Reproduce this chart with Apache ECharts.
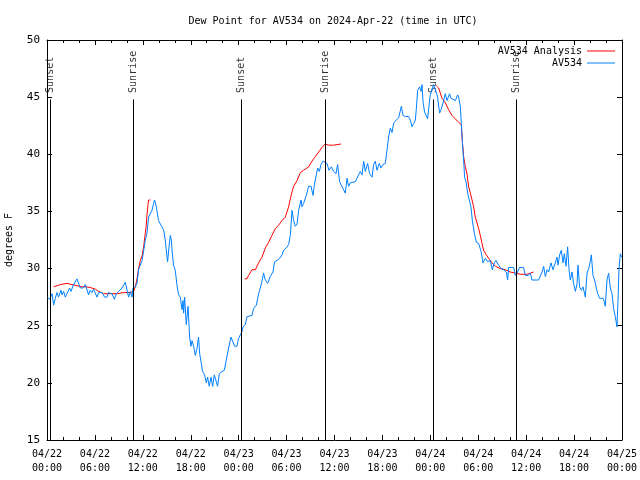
<!DOCTYPE html>
<html>
<head>
<meta charset="utf-8">
<script src="https://cdn.jsdelivr.net/npm/echarts@6/dist/echarts.min.js"></script>
<style>html,body{margin:0;padding:0;background:#fff}#c{width:640px;height:480px}</style>
</head>
<body>
<div id="c"></div>
<script>
// ---- data (hours since 2024-04-22 00:00 UTC, dew point in F) ----
const xTickLabels = ['04/22\n00:00','04/22\n06:00','04/22\n12:00','04/22\n18:00','04/23\n00:00','04/23\n06:00','04/23\n12:00','04/23\n18:00','04/24\n00:00','04/24\n06:00','04/24\n12:00','04/24\n18:00','04/25\n00:00'];
const sunNames = ['Sunset','Sunrise','Sunset','Sunrise','Sunset','Sunrise'];
const sunHours = [0.45, 10.85, 24.37, 34.8, 48.4, 58.8];

const blueT = [
0.08,0.33,0.63,0.83,1.04,1.25,1.45,1.75,1.88,2.08,
2.29,2.50,2.83,3.01,3.26,3.42,3.76,3.96,4.17,4.51,
4.80,5.01,5.21,5.42,5.63,5.84,6.05,6.26,6.46,6.89,
7.21,7.51,7.71,8.14,8.43,8.68,8.97,9.39,9.80,10.02,
10.22,10.43,10.64,10.77,11.06,11.27,11.47,11.68,11.90,12.02,
12.18,12.31,12.52,12.72,12.94,13.15,13.35,13.47,13.69,13.85,
13.97,14.19,14.40,14.60,14.81,15.03,15.10,15.28,15.44,15.57,
15.69,15.85,16.07,16.28,16.48,16.69,16.91,17.03,17.11,17.23,
17.44,17.66,17.86,18.03,18.16,18.36,18.57,18.78,18.98,19.11,
19.32,19.48,19.73,19.95,20.11,20.32,20.54,20.74,20.95,21.20,
21.36,21.58,21.91,22.20,22.45,22.67,22.87,23.04,23.29,23.49,
23.79,23.99,24.21,24.42,24.54,24.83,25.04,25.24,25.67,25.87,
26.21,26.50,26.71,26.92,27.12,27.34,27.62,27.84,27.96,28.30,
28.50,28.80,29.13,29.43,29.63,29.97,30.25,30.47,30.68,30.88,
31.09,31.31,31.51,31.81,31.93,32.13,32.47,32.76,33.06,33.31,
33.47,33.72,33.89,34.10,34.31,34.56,34.76,35.06,35.31,35.60,
35.89,36.19,36.39,36.64,36.85,37.07,37.35,37.57,37.77,37.98,
38.19,38.61,39.02,39.23,39.45,39.65,39.86,40.15,40.40,40.70,
40.90,41.11,41.32,41.61,41.82,42.07,42.36,42.58,42.78,42.99,
43.20,43.40,43.61,43.83,44.03,44.24,44.37,44.58,44.87,45.28,
45.49,45.71,45.91,46.12,46.24,46.41,46.66,46.83,46.96,47.08,
47.28,47.50,47.66,47.87,48.00,48.21,48.41,48.71,48.91,49.16,
49.34,49.59,49.75,49.87,50.09,50.41,50.59,50.84,51.13,51.42,
51.54,51.75,51.88,52.00,52.17,52.29,52.50,52.67,52.88,53.09,
53.26,53.51,53.76,54.05,54.35,54.60,54.89,55.17,55.51,55.76,
56.01,56.22,56.55,56.85,57.18,57.51,57.68,57.80,58.43,58.64,
58.85,59.18,59.68,59.89,60.23,60.52,60.73,60.93,61.27,61.56,
61.77,61.99,62.19,62.40,62.61,62.81,63.11,63.36,63.65,63.86,
63.99,64.19,64.40,64.62,64.78,64.99,65.19,65.37,65.53,65.74,
65.94,66.16,66.37,66.49,66.69,66.91,67.12,67.41,67.62,67.82,
68.03,68.16,68.37,68.57,68.79,68.95,69.20,69.41,69.62,69.79,
69.91,70.12,70.32,70.54,70.75,70.95,71.16,71.37,71.50,71.62,
71.79,71.95];
const blueV = [
27.5,27.3,27.8,26.8,27.4,27.9,27.5,28.1,27.7,28.0,
27.5,27.8,28.3,28.0,28.5,28.6,29.1,29.1,28.3,28.3,
28.6,28.6,27.7,28.1,27.9,28.2,28.1,27.5,27.9,27.9,
27.5,27.5,27.9,27.8,27.3,27.8,28.0,28.3,28.8,28.8,
27.5,28.0,27.5,28.3,28.4,28.7,29.9,30.3,30.7,31.2,
31.9,32.5,33.1,34.5,34.4,35.1,35.7,36.0,35.4,34.7,
34.2,33.9,33.8,33.4,32.5,31.0,30.6,31.9,32.9,32.5,
31.3,30.3,29.8,28.5,27.7,27.5,26.4,27.2,26.1,27.5,
25.1,26.7,24.0,23.2,23.7,23.2,22.4,23.0,24.0,22.6,
21.7,21.0,20.7,20.0,20.5,19.7,20.5,19.7,20.7,20.1,
19.7,20.8,21.0,21.1,22.0,22.1,23.5,24.0,23.9,23.2,
23.2,23.9,24.2,24.5,24.9,25.1,25.8,25.9,25.9,26.5,
26.8,27.8,28.3,28.9,29.6,29.0,28.7,28.6,29.3,29.7,
30.6,30.7,30.9,31.2,31.6,31.8,32.1,32.9,35.1,34.2,
33.7,33.9,35.1,36.0,35.4,35.7,36.4,37.2,37.2,36.4,
37.3,38.2,38.8,38.5,39.1,39.4,39.5,39.2,38.6,38.9,
38.5,38.3,39.1,37.6,37.5,37.0,36.6,37.9,37.2,37.5,
37.6,37.6,38.2,38.5,38.2,39.4,38.5,39.2,38.3,38.0,
39.1,39.4,38.6,39.2,38.8,39.1,39.2,40.4,41.5,42.3,
41.9,42.7,42.9,43.0,43.2,43.8,44.2,43.4,43.3,43.3,
43.0,42.4,42.7,43.0,43.9,45.6,45.9,45.5,46.1,44.6,
43.7,43.6,43.1,44.5,45.2,45.3,46.1,45.5,45.0,43.6,
43.9,44.5,44.6,45.3,44.7,45.3,44.9,45.0,44.7,45.2,
45.0,44.2,42.7,41.2,39.5,38.0,37.5,36.6,36.0,35.4,
34.2,33.1,32.3,32.2,31.5,30.5,30.9,30.6,30.7,29.9,
30.5,30.7,30.3,30.0,29.9,29.7,29.0,30.1,30.1,29.4,
29.6,30.1,30.1,29.4,29.4,29.6,29.0,28.9,29.0,29.0,
29.1,29.7,30.2,29.3,29.9,29.7,30.5,29.9,30.5,31.0,
30.3,31.2,31.6,30.5,31.3,30.2,31.9,29.9,29.0,29.7,
28.7,28.0,28.7,30.3,28.4,28.1,28.4,27.5,29.6,30.0,
30.6,31.2,29.4,29.0,28.3,27.8,27.4,27.5,27.4,27.1,
26.7,29.0,29.6,28.3,27.8,26.5,25.8,24.9,27.2,29.9,
31.3,31.0];

const redT = [
0.83,1.67,2.50,3.13,3.76,4.38,5.01,5.63,6.05,6.46,7.09,7.93,8.77,9.59,10.43,10.84,11.06,11.27,11.47,11.68,11.90,12.10,12.31,12.43,12.52,12.65,12.72,12.94,
18.0,
24.74,25.04,25.24,25.67,26.09,26.50,26.92,27.34,27.75,28.17,28.59,29.00,29.43,29.84,30.25,30.47,30.68,30.88,31.31,31.72,32.13,32.76,33.18,33.60,34.01,34.44,34.85,35.26,35.89,36.82,
42.0,
48.75,49.04,49.46,49.88,50.29,50.71,51.13,51.54,51.88,52.00,52.17,52.38,52.59,52.79,53.01,53.22,53.42,53.63,53.85,54.05,54.26,54.47,54.67,55.01,55.30,55.72,56.14,56.76,57.39,58.01,58.64,59.27,60.11,60.52,60.93];
const redV = [
28.4,28.6,28.7,28.6,28.5,28.4,28.4,28.3,28.2,28.0,27.8,27.8,27.8,27.9,27.9,28.0,28.4,29.1,30.0,30.7,31.1,31.9,33.1,33.8,34.7,35.6,36.0,36.0,
null,
29.1,29.1,29.4,29.9,29.9,30.5,31.0,31.8,32.3,32.9,33.5,33.8,34.2,34.5,35.4,36.1,36.7,37.2,37.7,38.4,38.6,38.9,39.4,39.8,40.2,40.6,40.9,40.8,40.8,40.9,
null,
46.0,45.8,44.9,44.5,43.9,43.4,43.1,42.8,42.6,41.2,39.8,38.9,38.3,37.2,36.6,36.0,35.4,34.5,34.0,33.5,32.9,32.2,31.6,31.2,30.9,30.5,30.2,30.0,29.9,29.7,29.6,29.5,29.5,29.6,29.7];

// ---- chart ----
const FONT = 'DejaVu Sans Mono';
const sunLineTop = 44.8;
const chart = echarts.init(document.getElementById('c'), null, {renderer: 'canvas'});
const axisCommon = {
  axisLine: {show: true, onZero: false, lineStyle: {color: '#000', width: 1}},
  splitLine: {show: false}
};
const legendCommon = {
  right: 25, orient: 'vertical', align: 'right', icon: 'rect', itemWidth: 28, itemHeight: 1, padding: 0,
  textStyle: {fontFamily: FONT, fontSize: 10, color: '#000'}, selectedMode: false
};
chart.setOption({
  animation: false,
  backgroundColor: '#fff',
  title: {
    text: 'Dew Point for AV534 on 2024-Apr-22 (time in UTC)',
    left: 328, top: 11, textAlign: 'center',
    textStyle: {fontFamily: FONT, fontSize: 10, fontWeight: 'normal', color: '#000'}
  },
  legend: [
    Object.assign({}, legendCommon, {data: ['AV534 Analysis'], top: 46}),
    Object.assign({}, legendCommon, {data: ['AV534'], top: 58})
  ],
  grid: {left: 47, right: 18, top: 40, bottom: 40, containLabel: false, outerBoundsMode: 'none'},
  xAxis: [
    Object.assign({}, axisCommon, {
      type: 'value', min: 0, max: 72, interval: 6, position: 'bottom',
      axisTick: {show: true, inside: true, length: 5, lineStyle: {color: '#000'}},
      minorTick: {show: true, splitNumber: 3, length: 3, lineStyle: {color: '#000'}},
      axisLabel: {show: true, margin: 7, fontFamily: FONT, fontSize: 10, color: '#000', lineHeight: 14,
        formatter: v => xTickLabels[Math.round(v / 6)]}
    }),
    Object.assign({}, axisCommon, {
      type: 'value', min: 0, max: 72, interval: 6, position: 'top',
      axisTick: {show: true, inside: true, length: 5, lineStyle: {color: '#000'}},
      minorTick: {show: true, splitNumber: 3, length: 3, lineStyle: {color: '#000'}},
      axisLabel: {show: false}
    })
  ],
  yAxis: [
    Object.assign({}, axisCommon, {
      type: 'value', min: 15, max: 50, interval: 5, position: 'left',
      name: 'degrees F', nameLocation: 'middle', nameGap: 33, nameRotate: 90,
      nameTextStyle: {fontFamily: FONT, fontSize: 10, color: '#000'},
      axisTick: {show: true, inside: true, length: 5, lineStyle: {color: '#000'}},
      axisLabel: {show: true, margin: 7, fontFamily: FONT, fontSize: 11, color: '#000'}
    }),
    Object.assign({}, axisCommon, {
      type: 'value', min: 15, max: 50, interval: 5, position: 'right',
      axisTick: {show: true, inside: true, length: 5, lineStyle: {color: '#000'}},
      axisLabel: {show: false}
    })
  ],
  series: [
    {
      name: 'sun', type: 'scatter', symbolSize: 1, itemStyle: {color: 'rgba(0,0,0,0)'}, silent: true,
      data: sunHours.map(h => [h, sunLineTop]),
      label: {show: true, formatter: p => sunNames[p.dataIndex], rotate: 90, position: 'top', distance: 5,
        align: 'left', verticalAlign: 'middle', fontFamily: FONT, fontSize: 10, color: '#000', offset: [1, 0]},
      markLine: {
        silent: true, symbol: 'none', label: {show: false},
        lineStyle: {color: '#000', width: 1, type: 'solid'},
        data: sunHours.map(h => [{coord: [h, 15]}, {coord: [h, sunLineTop]}])
      }
    },
    {
      name: 'AV534 Analysis', type: 'line', showSymbol: false, connectNulls: false,
      lineStyle: {color: '#ff0000', width: 1}, itemStyle: {color: '#ff0000'},
      data: redT.map((t, i) => [t, redV[i]])
    },
    {
      name: 'AV534', type: 'line', showSymbol: false,
      lineStyle: {color: '#0080ff', width: 1}, itemStyle: {color: '#0080ff'},
      data: blueT.map((t, i) => [t, blueV[i]])
    }
  ]
});
</script>
</body>
</html>
